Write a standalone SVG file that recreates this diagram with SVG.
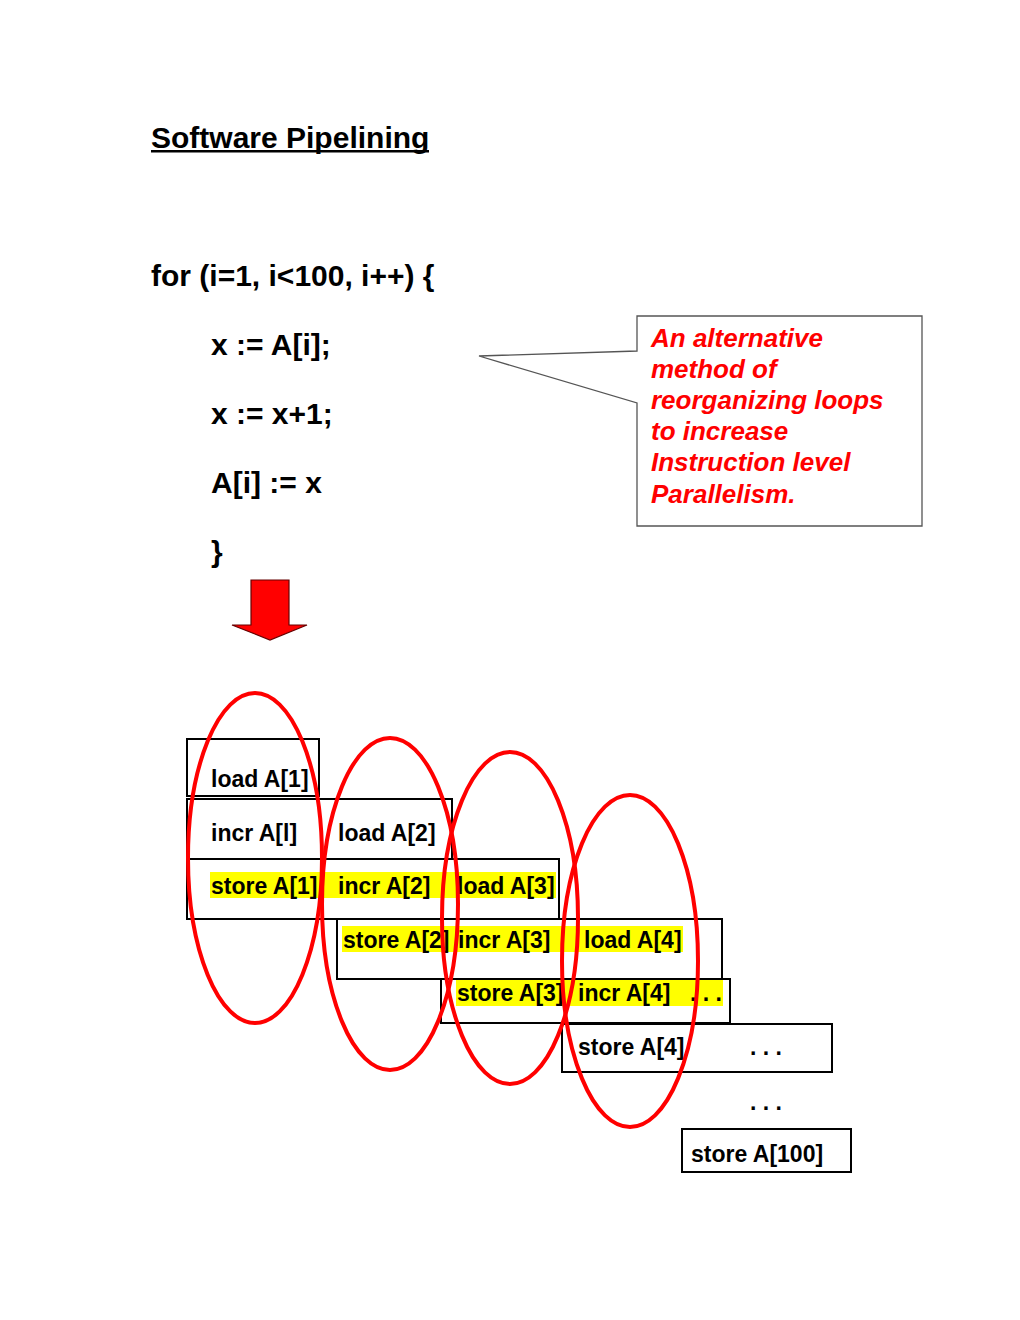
<svg xmlns="http://www.w3.org/2000/svg" width="1020" height="1320" viewBox="0 0 1020 1320">
<style>
.t{font-family:"Liberation Sans",Arial,sans-serif;font-weight:bold;fill:#000}
.big{font-size:30px}
.cell{font-size:23px}
.call{font-family:"Liberation Sans",Arial,sans-serif;font-weight:bold;font-style:italic;font-size:26px;fill:#ff0000}
.box{fill:#fff;stroke:#000;stroke-width:2}
.hl{fill:#ffff00}
.ell{fill:none;stroke:#ff0000;stroke-width:4}
</style>
<rect width="1020" height="1320" fill="#fff"/>
<g id="title">
<text class="t big" x="151" y="148">Software Pipelining</text>
<rect x="151" y="150" width="278" height="2.5" fill="#000"/>
</g>
<g id="code">
<text class="t big" x="151" y="286">for (i=1, i&lt;100, i++) {</text>
<text class="t big" x="211" y="355">x := A[i];</text>
<text class="t big" x="211" y="424">x := x+1;</text>
<text class="t big" x="211" y="493">A[i] := x</text>
<text class="t big" x="211" y="562">}</text>
</g>
<g id="callout">
<path d="M637,316 H922 V526 H637 V403 L479,356 L637,351 Z" fill="#fff" stroke="#555" stroke-width="1.3"/>
<text class="call" x="651" y="347">An alternative</text>
<text class="call" x="651" y="378">method of</text>
<text class="call" x="651" y="409">reorganizing loops</text>
<text class="call" x="651" y="440">to increase</text>
<text class="call" x="651" y="471">Instruction level</text>
<text class="call" x="651" y="503">Parallelism.</text>
</g>
<g id="arrow">
<path d="M251,580 H289 V625 H307 L270,640 L232,625 H251 Z" fill="#ff0000" stroke="#600" stroke-width="1.2"/>
</g>
<g id="pipeline">
<g id="row1"><rect class="box" x="187" y="739" width="132" height="57"/>
<text class="t cell" x="211" y="787">load A[1]</text></g>
<g id="row2"><rect class="box" x="187" y="799" width="265" height="60"/>
<text class="t cell" x="211" y="841">incr A[l]</text>
<text class="t cell" x="338" y="841">load A[2]</text></g>
<g id="row3"><rect class="box" x="187" y="859" width="372" height="60"/>
<rect class="hl" x="210" y="872" width="346" height="26"/>
<text class="t cell" x="211" y="894">store A[1]</text>
<text class="t cell" x="338" y="894">incr A[2]</text>
<text class="t cell" x="457" y="894">load A[3]</text></g>
<g id="row4"><rect class="box" x="337" y="919" width="385" height="60"/>
<rect class="hl" x="342" y="926" width="341" height="26"/>
<text class="t cell" x="343" y="948">store A[2]</text>
<text class="t cell" x="458" y="948">incr A[3]</text>
<text class="t cell" x="584" y="948">load A[4]</text></g>
<g id="row5"><rect class="box" x="441" y="979" width="289" height="44"/>
<rect class="hl" x="456" y="980" width="267" height="26"/>
<text class="t cell" x="457" y="1001">store A[3]</text>
<text class="t cell" x="578" y="1001">incr A[4]</text>
<text class="t cell" x="690" y="1001">. . .</text></g>
<g id="row6"><rect class="box" x="562" y="1024" width="270" height="48"/>
<text class="t cell" x="578" y="1055">store A[4]</text>
<text class="t cell" x="750" y="1055">. . .</text></g>
<g id="dots"><text class="t cell" x="750" y="1110">. . .</text></g>
<g id="row100"><rect class="box" x="682" y="1129" width="169" height="43"/>
<text class="t cell" x="691" y="1162">store A[100]</text></g>
</g>
<g id="ellipses">
<ellipse class="ell" cx="255" cy="858" rx="67" ry="165"/>
<ellipse class="ell" cx="390" cy="904" rx="68" ry="166"/>
<ellipse class="ell" cx="510" cy="918" rx="68" ry="166"/>
<ellipse class="ell" cx="630" cy="961" rx="68" ry="166"/>
</g>
</svg>
